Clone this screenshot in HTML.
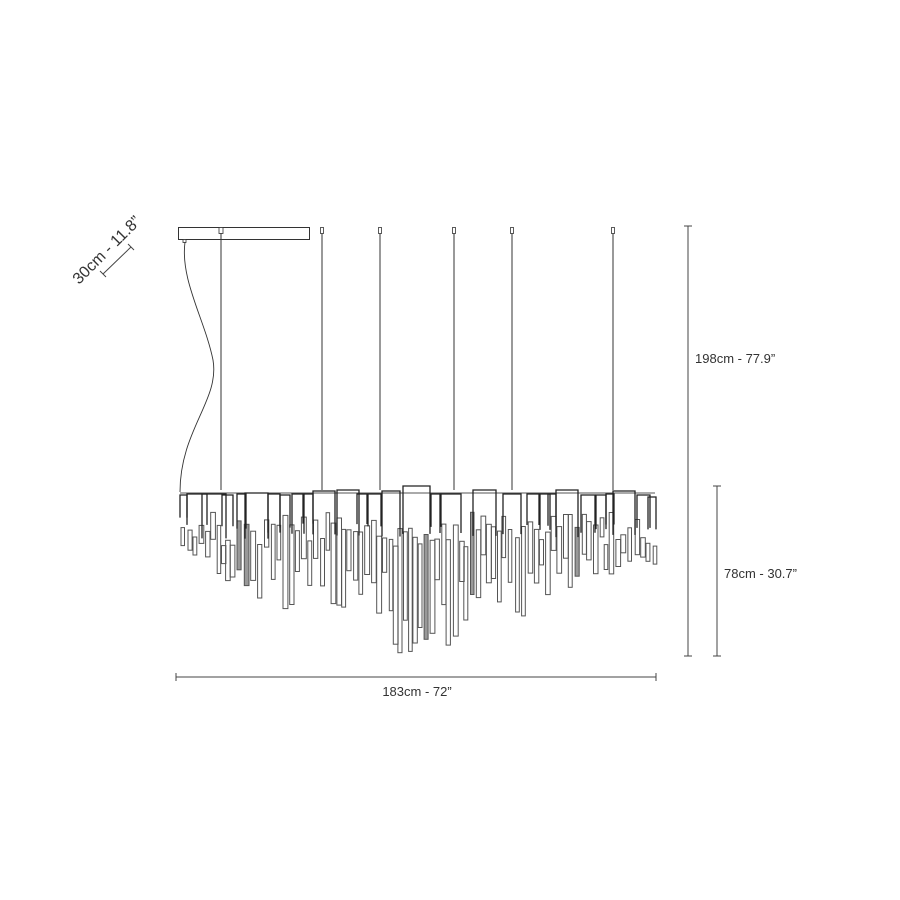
<!DOCTYPE html>
<html><head><meta charset="utf-8">
<style>
html,body{margin:0;padding:0;background:#fff;}
svg{display:block;}
text{font-family:"Liberation Sans",sans-serif;fill:#333;}
</style></head>
<body>
<svg id="s" width="900" height="900" viewBox="0 0 900 900" xmlns="http://www.w3.org/2000/svg">
<rect width="900" height="900" fill="#fff"/>
<rect x="178.5" y="227.5" width="131" height="12" fill="none" stroke="#333" stroke-width="1"/>
<rect x="219" y="227.5" width="4" height="6" fill="#fff" stroke="#333" stroke-width="0.8"/>
<rect x="183" y="239.5" width="3" height="3" fill="#fff" stroke="#333" stroke-width="0.8"/>
<path d="M185,242 C180,280 205,320 213,360 C220,400 180,430 180,492" fill="none" stroke="#333" stroke-width="0.9"/>
<g stroke="#333" stroke-width="1" fill="none">
<line x1="221" y1="233" x2="221" y2="490"/>
<line x1="322" y1="233" x2="322" y2="490"/>
<line x1="380" y1="233" x2="380" y2="490"/>
<line x1="454" y1="233" x2="454" y2="490"/>
<line x1="512" y1="233" x2="512" y2="490"/>
<line x1="613" y1="233" x2="613" y2="490"/>
</g>
<g fill="#fff" stroke="#333" stroke-width="0.8">
<rect x="320.5" y="227.5" width="3" height="6"/>
<rect x="378.5" y="227.5" width="3" height="6"/>
<rect x="452.5" y="227.5" width="3" height="6"/>
<rect x="510.5" y="227.5" width="3" height="6"/>
<rect x="611.5" y="227.5" width="3" height="6"/>
</g>
<g id="crys"></g>
<g id="prisms" fill="none" stroke="#222" stroke-width="1.3"></g>
<g stroke="#444" stroke-width="1">
<line x1="688" y1="226" x2="688" y2="656"/>
<line x1="684" y1="226" x2="692" y2="226"/>
<line x1="684" y1="656" x2="692" y2="656"/>
<line x1="717" y1="486" x2="717" y2="656"/>
<line x1="713" y1="486" x2="721" y2="486"/>
<line x1="713" y1="656" x2="721" y2="656"/>
<line x1="176" y1="677" x2="656" y2="677"/>
<line x1="176" y1="673" x2="176" y2="681"/>
<line x1="656" y1="673" x2="656" y2="681"/>
<line x1="103" y1="274" x2="131" y2="247"/>
<line x1="100" y1="271" x2="106" y2="277"/>
<line x1="128" y1="244" x2="134" y2="250"/>
</g>
<text x="695" y="363" font-size="13">198cm - 77.9”</text>
<text x="724" y="578" font-size="13">78cm - 30.7”</text>
<text x="417" y="696" font-size="13" text-anchor="middle">183cm - 72”</text>
<text x="0" y="0" font-size="16" transform="translate(79,285) rotate(-45)">30cm - 11.8”</text>
</svg>
<script>
(function(){
var g=document.getElementById('crys'),pg=document.getElementById('prisms'),ns='http://www.w3.org/2000/svg';
var seed=11;function r(){seed=(seed*16807)%2147483647;return seed/2147483647;}
function env(x){var t=Math.abs(x-410)/235;return 655-(100*Math.pow(Math.min(t,1),1.3));}
function rect(x,y,w,h,st,sw,f){var e=document.createElementNS(ns,'rect');e.setAttribute('x',x);e.setAttribute('y',y);e.setAttribute('width',w);e.setAttribute('height',h);e.setAttribute('fill',f||'none');e.setAttribute('stroke',st);e.setAttribute('stroke-width',sw);g.appendChild(e);}
var x=181;
while(x<655){
  var w=3.5+r()*1.5;
  var bottom=env(x);
  var top=512+r()*35;
  var len=(bottom-top)*(0.3+r()*0.7);
  if(len<18)len=18;
  rect(x.toFixed(1),top.toFixed(1),w.toFixed(1),len.toFixed(1),'#555',1, r()<0.04?'#999':'none');
  x+=4+r()*3.5;
}
var p=document.createElementNS(ns,'line');p.setAttribute('x1',180);p.setAttribute('y1',493);p.setAttribute('x2',655);p.setAttribute('y2',493);p.setAttribute('stroke','#555');p.setAttribute('stroke-width','1');pg.appendChild(p);
var tops=[[180,495,7,22],[187,494,20,30],[202,494,24,40],[222,495,11,28],[237,494,9,32],[245,493,23,42],[268,494,12,34],[280,495,10,28],[292,494,12,34],[303,494,10,28],[313,491,22,40],[337,490,22,44],[357,494,10,30],[368,494,13,28],[382,491,18,40],[403,486,27,44],[431,494,10,32],[440,494,21,38],[473,490,23,42],[503,494,18,38],[527,494,12,28],[540,494,10,32],[548,494,8,28],[556,490,22,42],[581,495,14,32],[596,495,10,34],[606,494,8,28],[613,491,22,42],[637,495,13,32],[648,497,8,30]];
tops.forEach(function(t){
  var path=document.createElementNS(ns,'path');
  var x0=t[0],y0=t[1],w=t[2],h=t[3]+r()*6;
  path.setAttribute('d','M'+x0+','+(y0+h)+' V'+y0+' H'+(x0+w)+' V'+(y0+h));
  pg.appendChild(path);
});
})();
</script>
</body></html>
